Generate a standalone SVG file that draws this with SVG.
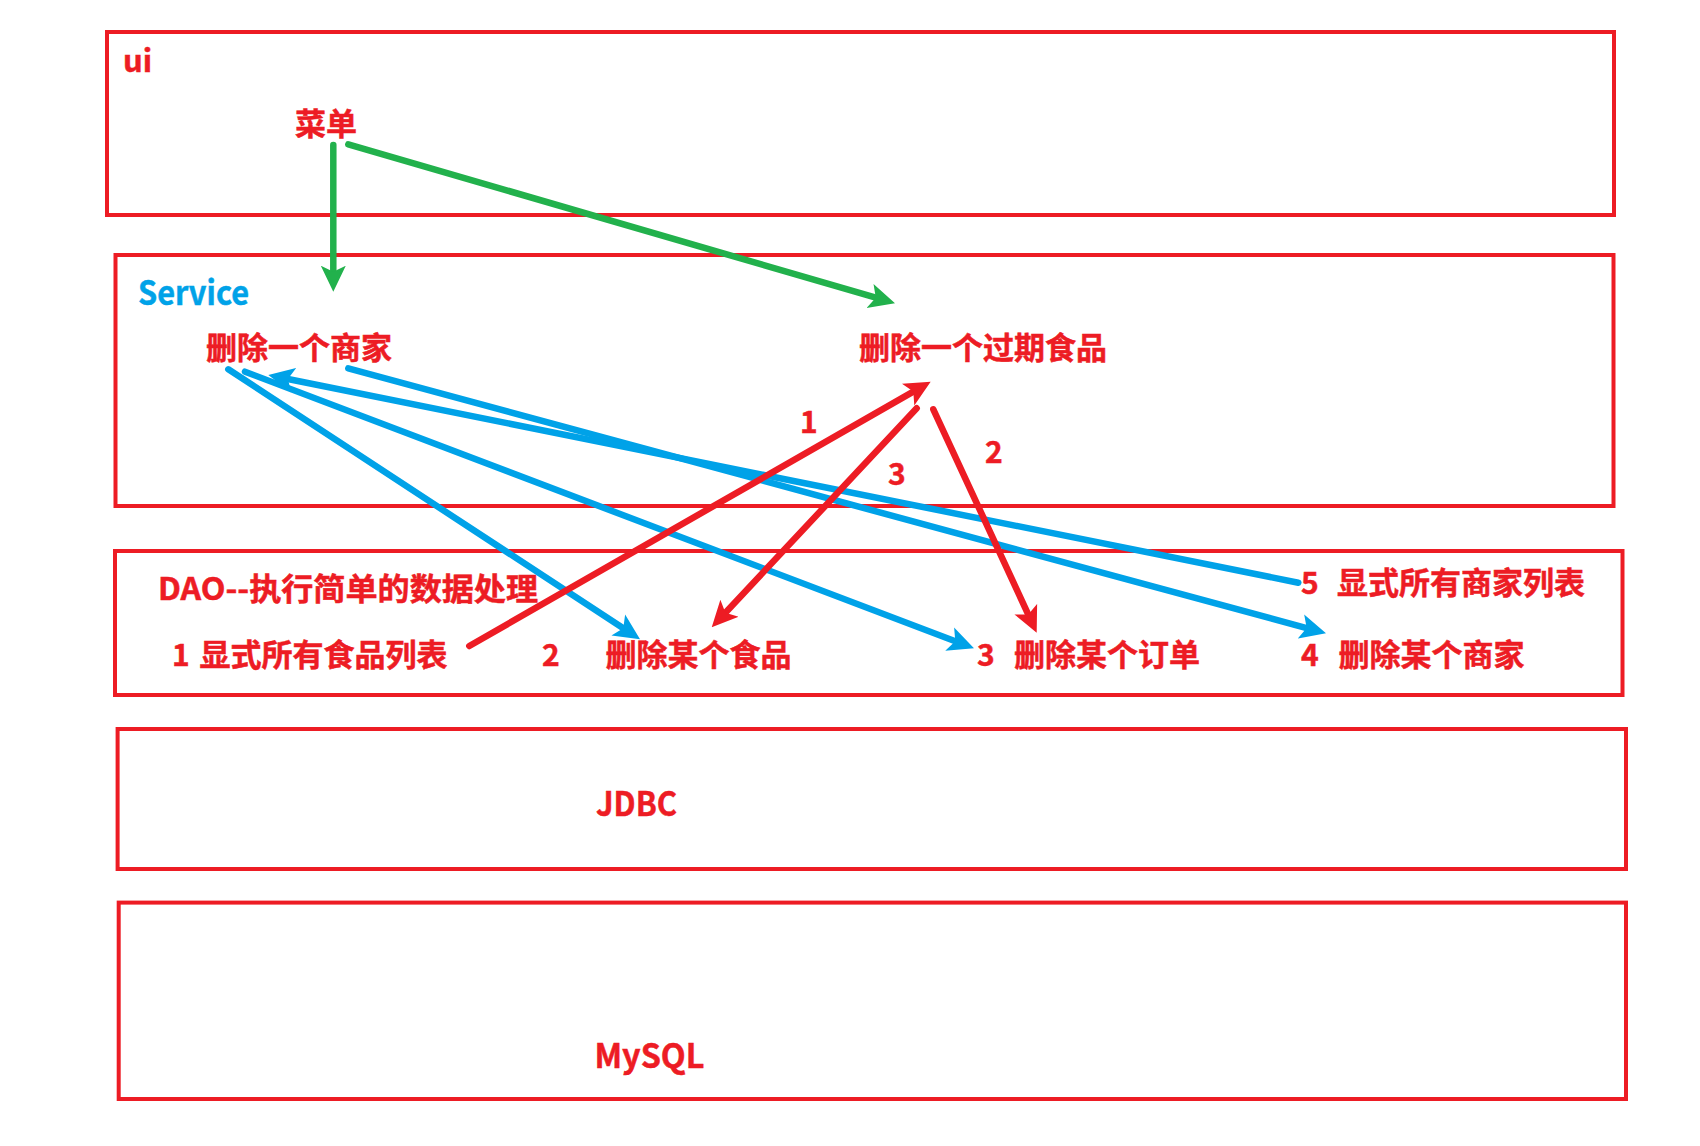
<svg xmlns="http://www.w3.org/2000/svg" width="1700" height="1146" viewBox="0 0 1700 1146">
<style>
.box{fill:none;stroke:#ED1C24;stroke-width:4}
.t{font-family:"Noto Sans CJK SC","Noto Sans",sans-serif;font-weight:bold;fill:#ED1C24;stroke:#ED1C24;stroke-width:0.5;font-size:31px}
.n{font-size:30px}
.g{fill:none;stroke:#22B14C;stroke-width:6.5;stroke-linecap:round}
.b{fill:none;stroke:#00A2E8;stroke-width:6.5;stroke-linecap:round}
.r{fill:none;stroke:#ED1C24;stroke-width:6.5;stroke-linecap:round}
</style>
<defs>
<marker id="ag" viewBox="0 -13 26 26" markerWidth="26" markerHeight="26" markerUnits="userSpaceOnUse" refX="6" refY="0" orient="auto"><path d="M0,-12.5 L26,0 L0,12.5 L6,0 Z" fill="#22B14C"/></marker>
<marker id="ab" viewBox="0 -13 26 26" markerWidth="26" markerHeight="26" markerUnits="userSpaceOnUse" refX="6" refY="0" orient="auto"><path d="M0,-12.5 L26,0 L0,12.5 L6,0 Z" fill="#00A2E8"/></marker>
<marker id="ar" viewBox="0 -13 26 26" markerWidth="26" markerHeight="26" markerUnits="userSpaceOnUse" refX="6" refY="0" orient="auto"><path d="M0,-12.5 L26,0 L0,12.5 L6,0 Z" fill="#ED1C24"/></marker>
</defs>
<rect width="1700" height="1146" fill="#fff"/>

<g id="layer-ui">
<rect class="box" x="107" y="32" width="1507" height="183"/>
<text class="t" x="123" y="72">ui</text>
</g>
<g id="node-menu"><text class="t" x="295" y="135">菜单</text></g>

<g id="layer-service">
<rect class="box" x="115.5" y="255" width="1498" height="251"/>
<text class="t" x="138" y="305" textLength="111" lengthAdjust="spacingAndGlyphs" style="fill:#00A2E8;stroke:#00A2E8;font-size:33px">Service</text>
</g>
<g id="node-del-merchant"><text class="t" x="206" y="358.5">删除一个商家</text></g>
<g id="node-del-expired"><text class="t" x="859" y="358.5">删除一个过期食品</text></g>

<g id="layer-dao">
<rect class="box" x="115" y="551" width="1507.5" height="144"/>
<text class="t" x="158" y="600" textLength="380" lengthAdjust="spacingAndGlyphs">DAO--执行简单的数据处理</text>
</g>
<g id="node-dao1"><text class="t" y="666"><tspan class="n" x="172">1</tspan><tspan x="199.5">显式所有食品列表</tspan></text></g>
<g id="node-dao2"><text class="t" y="666"><tspan class="n" x="542">2</tspan><tspan x="605.5">删除某个食品</tspan></text></g>
<g id="node-dao3"><text class="t" y="666"><tspan class="n" x="977">3</tspan><tspan x="1014">删除某个订单</tspan></text></g>
<g id="node-dao4"><text class="t" y="666"><tspan class="n" x="1301">4</tspan><tspan x="1338.5">删除某个商家</tspan></text></g>
<g id="node-dao5"><text class="t" y="594"><tspan class="n" x="1301">5</tspan><tspan x="1337">显式所有商家列表</tspan></text></g>

<g id="layer-jdbc">
<rect class="box" x="117.6" y="729" width="1508.4" height="140"/>
<text class="t" x="596" y="816" textLength="81" lengthAdjust="spacingAndGlyphs" style="font-size:33px">JDBC</text>
</g>
<g id="layer-mysql">
<rect class="box" x="118.7" y="902.6" width="1507.3" height="196.4"/>
<text class="t" x="594.5" y="1068" textLength="110" lengthAdjust="spacingAndGlyphs" style="font-size:33px">MySQL</text>
</g>

<g id="connectors">
<line class="g" x1="333.3" y1="145" x2="333.3" y2="271.7" marker-end="url(#ag)"/>
<line class="g" x1="348.3" y1="144.3" x2="875.8" y2="297.7" marker-end="url(#ag)"/>
<line class="b" x1="228.3" y1="369.3" x2="623.3" y2="628.3" marker-end="url(#ab)"/>
<line class="b" x1="245" y1="371.7" x2="955.3" y2="641.2" marker-end="url(#ab)"/>
<line class="b" x1="348.3" y1="368.3" x2="1306.7" y2="628.1" marker-end="url(#ab)"/>
<line class="b" x1="1298.3" y1="582.7" x2="287.9" y2="379" marker-end="url(#ab)"/>
<line class="r" x1="469.3" y1="646" x2="913.3" y2="391.6" marker-end="url(#ar)"/>
<line class="r" x1="916.7" y1="408.3" x2="725.4" y2="612.7" marker-end="url(#ar)"/>
<line class="r" x1="933.3" y1="409.3" x2="1028.3" y2="614.6" marker-end="url(#ar)"/>
<text class="t n" x="800" y="433">1</text>
<text class="t n" x="888" y="484.5">3</text>
<text class="t n" x="985" y="463">2</text>
</g>
</svg>
